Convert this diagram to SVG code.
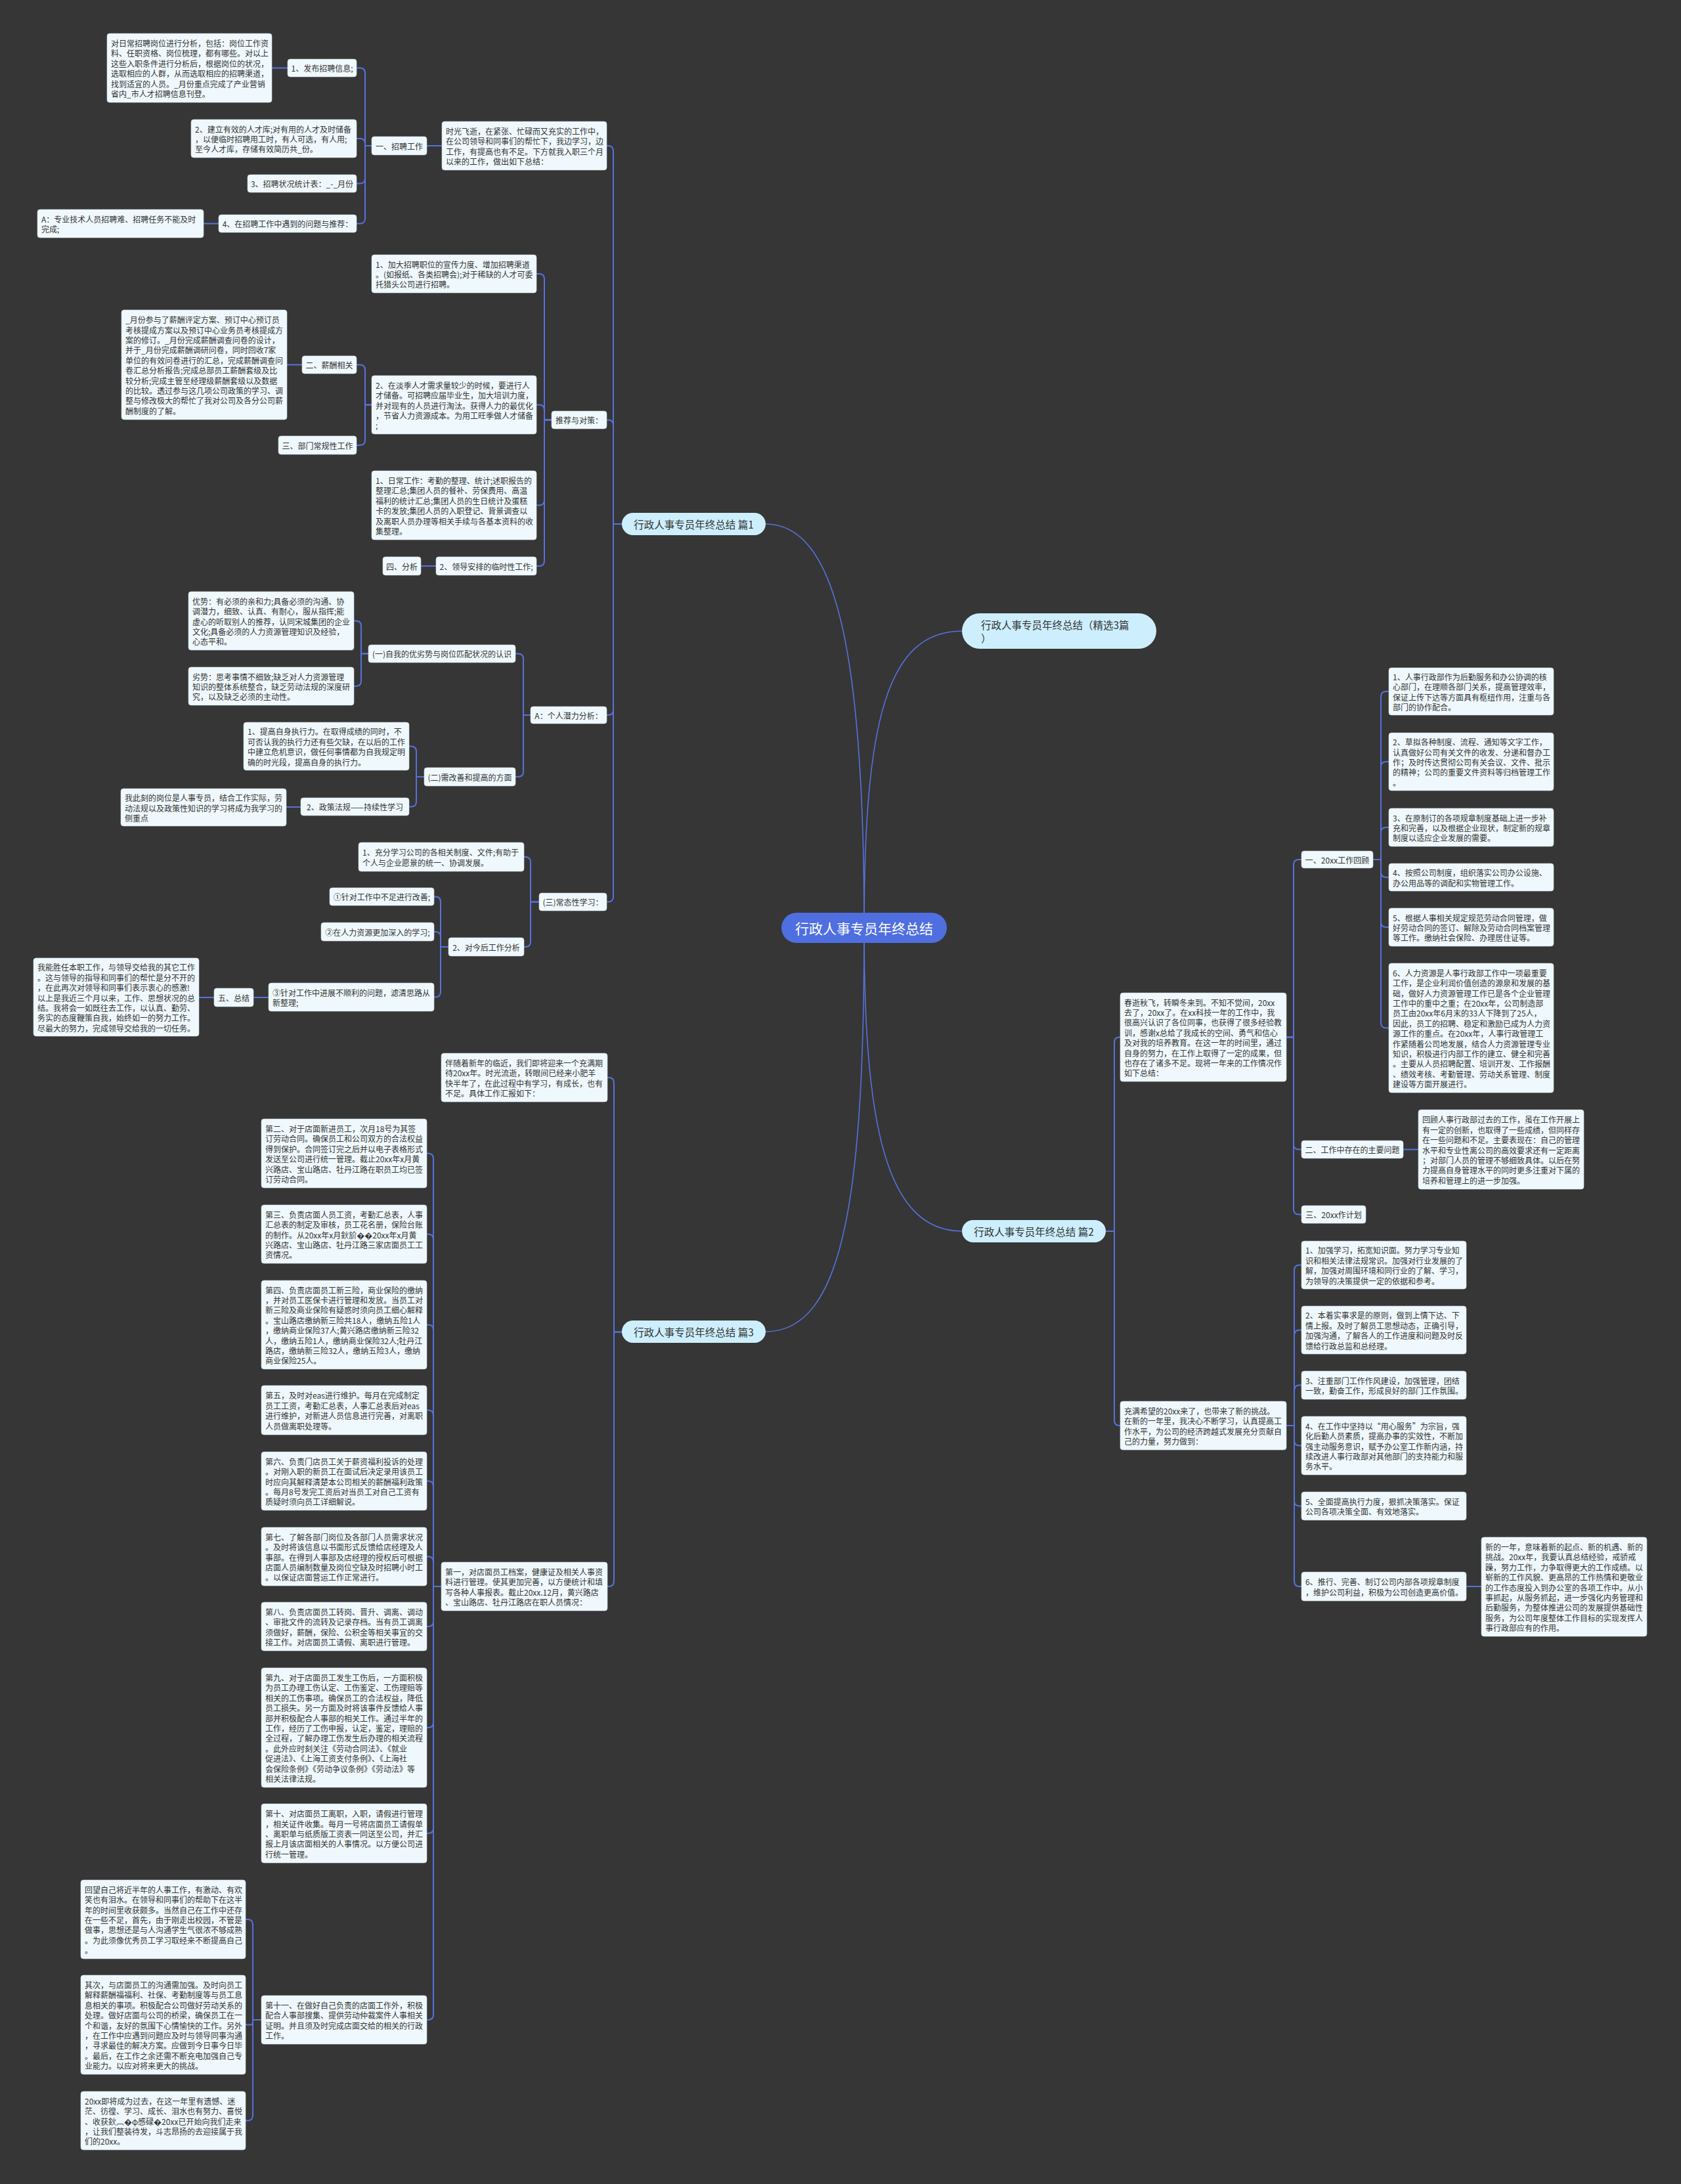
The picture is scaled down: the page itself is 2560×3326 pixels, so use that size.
<svg xmlns="http://www.w3.org/2000/svg" width="2560" height="3326" viewBox="0 0 2560 3326">
<style>
.c{fill:none;stroke:#5672DB;stroke-width:2}
.cm{fill:none;stroke:#5672DB;stroke-width:1.6}
.b{fill:#EFF9FD;stroke:#C9D6DE;stroke-width:0.6}
.t{font-family:"Noto Sans CJK SC","Noto Sans",sans-serif;font-size:12px;fill:#333;dominant-baseline:central}
.m{text-anchor:middle}
.l1{fill:#CDEFFD}
.l1t{font-family:"Noto Sans CJK SC","Noto Sans",sans-serif;font-size:15.5px;fill:#333;dominant-baseline:central}
.mt{font-family:"Noto Sans CJK SC","Noto Sans",sans-serif;font-size:21px;fill:#fff;dominant-baseline:central;text-anchor:middle}
</style>
<rect width="2560" height="3326" fill="#363636"/>
<g id="connectors">
<path class="cm" d="M1166 798 C1270 798 1316 980 1316 1413"/>
<path class="cm" d="M1465 961 C1350 961 1316 1100 1316 1413"/>
<path class="cm" d="M1465 1875 C1345 1875 1316 1700 1316 1413"/>
<path class="cm" d="M1166 2028 C1285 2028 1316 1820 1316 1413"/>
<path class="c" d="M947 798 H934 V230 Q934 222 926 222 H924"/>
<path class="c" d="M947 798 H934 V647.5 Q934 639.5 926 639.5 H924"/>
<path class="c" d="M947 798 H934 V1081 Q934 1089 926 1089 H924"/>
<path class="c" d="M947 798 H934 V1365.5 Q934 1373.5 926 1373.5 H924"/>
<path class="c" d="M673 222 H650"/>
<path class="c" d="M566 222 H556 V111.5 Q556 103.5 548 103.5 H543"/>
<path class="c" d="M566 222 H556 V219 Q556 211 548 211 H543"/>
<path class="c" d="M566 222 H556 V271.5 Q556 279.5 548 279.5 H543"/>
<path class="c" d="M566 222 H556 V332.5 Q556 340.5 548 340.5 H543"/>
<path class="c" d="M438 103.5 H414"/>
<path class="c" d="M333 340.5 H310"/>
<path class="c" d="M840 639.5 H829 V425 Q829 417 821 417 H817"/>
<path class="c" d="M840 639.5 H829 V624.5 Q829 616.5 821 616.5 H817"/>
<path class="c" d="M840 639.5 H829 V761.5 Q829 769.5 821 769.5 H817"/>
<path class="c" d="M840 639.5 H829 V854 Q829 862 821 862 H817"/>
<path class="c" d="M566 616.5 H556 V563.5 Q556 555.5 548 555.5 H543"/>
<path class="c" d="M566 616.5 H556 V670 Q556 678 548 678 H543"/>
<path class="c" d="M460 555.5 H437"/>
<path class="c" d="M664 862 H641"/>
<path class="c" d="M808 1089 H797 V1003.5 Q797 995.5 789 995.5 H785"/>
<path class="c" d="M808 1089 H797 V1175 Q797 1183 789 1183 H785"/>
<path class="c" d="M561 995.5 H550 V953.5 Q550 945.5 542 945.5 H539"/>
<path class="c" d="M561 995.5 H550 V1037 Q550 1045 542 1045 H539"/>
<path class="c" d="M646 1183 H634 V1144.5 Q634 1136.5 626 1136.5 H623"/>
<path class="c" d="M646 1183 H634 V1220.5 Q634 1228.5 626 1228.5 H623"/>
<path class="c" d="M458 1229 H436"/>
<path class="c" d="M821 1373.5 H808 V1313 Q808 1305 800 1305 H798"/>
<path class="c" d="M821 1373.5 H808 V1434 Q808 1442 800 1442 H798"/>
<path class="c" d="M683 1442 H671 V1373.5 Q671 1365.5 663 1365.5 H661"/>
<path class="c" d="M683 1442 H671 V1427 Q671 1419 663 1419 H661"/>
<path class="c" d="M683 1442 H671 V1510.5 Q671 1518.5 663 1518.5 H661"/>
<path class="c" d="M409 1519 H386"/>
<path class="c" d="M326 1519 H303"/>
<path class="c" d="M947 2028.5 H935 V1649 Q935 1641 927 1641 H925"/>
<path class="c" d="M947 2028.5 H935 V2408 Q935 2416 927 2416 H925"/>
<path class="c" d="M672 2416 H660 V1764.5 Q660 1756.5 652 1756.5 H650"/>
<path class="c" d="M672 2416 H660 V1887.5 Q660 1879.5 652 1879.5 H650"/>
<path class="c" d="M672 2416 H660 V2025.5 Q660 2017.5 652 2017.5 H650"/>
<path class="c" d="M672 2416 H660 V2155.5 Q660 2147.5 652 2147.5 H650"/>
<path class="c" d="M672 2416 H660 V2263.5 Q660 2255.5 652 2255.5 H650"/>
<path class="c" d="M672 2416 H660 V2378.5 Q660 2370.5 652 2370.5 H650"/>
<path class="c" d="M672 2416 H660 V2469 Q660 2477 652 2477 H650"/>
<path class="c" d="M672 2416 H660 V2623 Q660 2631 652 2631 H650"/>
<path class="c" d="M672 2416 H660 V2784 Q660 2792 652 2792 H650"/>
<path class="c" d="M672 2416 H660 V3068 Q660 3076 652 3076 H650"/>
<path class="c" d="M398 3076 H385 V2931 Q385 2923 377 2923 H374"/>
<path class="c" d="M398 3076 H385 V3079.5 Q385 3083.5 381 3083.5 H374"/>
<path class="c" d="M398 3076 H385 V3221.5 Q385 3229.5 377 3229.5 H374"/>
<path class="c" d="M1684 1875 H1697 V1587.5 Q1697 1579.5 1705 1579.5 H1706"/>
<path class="c" d="M1684 1875 H1697 V2163 Q1697 2171 1705 2171 H1706"/>
<path class="c" d="M1959 1579.5 H1970 V1317 Q1970 1309 1978 1309 H1982"/>
<path class="c" d="M1959 1579.5 H1970 V1742.5 Q1970 1750.5 1978 1750.5 H1982"/>
<path class="c" d="M1959 1579.5 H1970 V1841.5 Q1970 1849.5 1978 1849.5 H1982"/>
<path class="c" d="M2091 1309 H2103 V1061 Q2103 1053 2111 1053 H2115"/>
<path class="c" d="M2091 1309 H2103 V1168 Q2103 1160 2111 1160 H2115"/>
<path class="c" d="M2091 1309 H2103 V1268 Q2103 1260 2111 1260 H2115"/>
<path class="c" d="M2091 1309 H2103 V1328 Q2103 1336 2111 1336 H2115"/>
<path class="c" d="M2091 1309 H2103 V1404 Q2103 1412 2111 1412 H2115"/>
<path class="c" d="M2091 1309 H2103 V1557.5 Q2103 1565.5 2111 1565.5 H2115"/>
<path class="c" d="M2137 1750.5 H2160"/>
<path class="c" d="M1959 2171 H1971 V1934.5 Q1971 1926.5 1979 1926.5 H1982"/>
<path class="c" d="M1959 2171 H1971 V2033.5 Q1971 2025.5 1979 2025.5 H1982"/>
<path class="c" d="M1959 2171 H1971 V2117.5 Q1971 2109.5 1979 2109.5 H1982"/>
<path class="c" d="M1959 2171 H1971 V2193.5 Q1971 2201.5 1979 2201.5 H1982"/>
<path class="c" d="M1959 2171 H1971 V2285.5 Q1971 2293.5 1979 2293.5 H1982"/>
<path class="c" d="M1959 2171 H1971 V2408 Q1971 2416 1979 2416 H1982"/>
<path class="c" d="M2233 2416 H2256"/>
</g>
<g id="main"><rect x="1190" y="1390" width="252" height="46" rx="23" fill="#4F6FE0"/><text class="mt" x="1316" y="1413">行政人事专员年终总结</text></g>
<g id="p1"><rect class="l1" x="947" y="781" width="219" height="34" rx="17"/><text class="l1t m" x="1056.5" y="798">行政人事专员年终总结 篇1</text></g>
<g id="jx"><rect class="l1" x="1465" y="934" width="296" height="54" rx="27"/><text class="l1t"><tspan x="1494" y="951">行政人事专员年终总结（精选3篇</tspan><tspan x="1494" y="971">）</tspan></text></g>
<g id="p2"><rect class="l1" x="1465" y="1858" width="219" height="34" rx="17"/><text class="l1t m" x="1574.5" y="1875">行政人事专员年终总结 篇2</text></g>
<g id="p3"><rect class="l1" x="947" y="2011" width="219" height="34" rx="17"/><text class="l1t m" x="1056.5" y="2028">行政人事专员年终总结 篇3</text></g>

<g id="n1-intro"><rect class="b" x="673" y="185" width="251" height="74" rx="4"/><text class="t"><tspan x="679" y="198.9">时光飞逝，在紧张、忙碌而又充实的工作中，</tspan><tspan x="679" y="214.3">在公司领导和同事们的帮忙下，我边学习，边</tspan><tspan x="679" y="229.7">工作，有提高也有不足。下方就我入职三个月</tspan><tspan x="679" y="245.1">以来的工作，做出如下总结：</tspan></text></g>
<g id="n1-recruit"><rect class="b" x="566" y="208" width="84" height="28" rx="4"/><text class="t m" x="608" y="222">一、招聘工作</text></g>
<g id="n1-r1"><rect class="b" x="438" y="90" width="105" height="27" rx="4"/><text class="t m" x="490.5" y="103.5">1、发布招聘信息;</text></g>
<g id="n1-r1a"><rect class="b" x="163" y="51" width="251" height="105" rx="4"/><text class="t"><tspan x="169" y="65">对日常招聘岗位进行分析，包括：岗位工作资</tspan><tspan x="169" y="80.4">料、任职资格、岗位梳理，都有哪些。对以上</tspan><tspan x="169" y="95.8">这些入职条件进行分析后，根据岗位的状况，</tspan><tspan x="169" y="111.2">选取相应的人群，从而选取相应的招聘渠道，</tspan><tspan x="169" y="126.6">找到适宜的人员。_月份重点完成了产业营销</tspan><tspan x="169" y="142">省内_市人才招聘信息刊登。</tspan></text></g>
<g id="n1-r2"><rect class="b" x="291" y="182" width="252" height="58" rx="4"/><text class="t"><tspan x="297" y="195.6">2、建立有效的人才库;对有用的人才及时储备</tspan><tspan x="297" y="211">，以便临时招聘用工时，有人可选，有人用;</tspan><tspan x="297" y="226.4">至今人才库，存储有效简历共_份。</tspan></text></g>
<g id="n1-r3"><rect class="b" x="377" y="266" width="166" height="27" rx="4"/><text class="t m" x="460" y="279.5">3、招聘状况统计表：_-_月份</text></g>
<g id="n1-r4"><rect class="b" x="333" y="327" width="210" height="27" rx="4"/><text class="t m" x="438" y="340.5">4、在招聘工作中遇到的问题与推荐：</text></g>
<g id="n1-r4a"><rect class="b" x="57" y="319" width="253" height="43" rx="4"/><text class="t"><tspan x="63" y="332.8">A：专业技术人员招聘难、招聘任务不能及时</tspan><tspan x="63" y="348.2">完成;</tspan></text></g>

<g id="n1-adv"><rect class="b" x="840" y="626" width="84" height="27" rx="4"/><text class="t m" x="882" y="639.5">推荐与对策：</text></g>
<g id="n1-a1"><rect class="b" x="566" y="388" width="251" height="58" rx="4"/><text class="t"><tspan x="572" y="401.6">1、加大招聘职位的宣传力度、增加招聘渠道</tspan><tspan x="572" y="417">。(如报纸、各类招聘会);对于稀缺的人才可委</tspan><tspan x="572" y="432.4">托猎头公司进行招聘。</tspan></text></g>
<g id="n1-a2"><rect class="b" x="566" y="572" width="251" height="89" rx="4"/><text class="t"><tspan x="572" y="585.7">2、在淡季人才需求量较少的时候，要进行人</tspan><tspan x="572" y="601.1">才储备。可招聘应届毕业生，加大培训力度，</tspan><tspan x="572" y="616.5">并对现有的人员进行淘汰。获得人力的最优化</tspan><tspan x="572" y="631.9">，节省人力资源成本。为用工旺季做人才储备</tspan><tspan x="572" y="647.3">;</tspan></text></g>
<g id="n1-sal"><rect class="b" x="460" y="542" width="83" height="27" rx="4"/><text class="t m" x="501.5" y="555.5">二、薪酬相关</text></g>
<g id="n1-sala"><rect class="b" x="185" y="472" width="252" height="167" rx="4"/><text class="t"><tspan x="191" y="486.2">_月份参与了薪酬评定方案、预订中心预订员</tspan><tspan x="191" y="501.6">考核提成方案以及预订中心业务员考核提成方</tspan><tspan x="191" y="517">案的修订。_月份完成薪酬调查问卷的设计，</tspan><tspan x="191" y="532.4">并于_月份完成薪酬调研问卷，同时回收7家</tspan><tspan x="191" y="547.8">单位的有效问卷进行的汇总，完成薪酬调查问</tspan><tspan x="191" y="563.2">卷汇总分析报告;完成总部员工薪酬套级及比</tspan><tspan x="191" y="578.6">较分析;完成主管至经理级薪酬套级以及数据</tspan><tspan x="191" y="594">的比较。透过参与这几项公司政策的学习、调</tspan><tspan x="191" y="609.4">整与修改极大的帮忙了我对公司及各分公司薪</tspan><tspan x="191" y="624.8">酬制度的了解。</tspan></text></g>
<g id="n1-dept"><rect class="b" x="424" y="664" width="119" height="28" rx="4"/><text class="t m" x="483.5" y="678">三、部门常规性工作</text></g>
<g id="n1-a3"><rect class="b" x="566" y="717" width="251" height="105" rx="4"/><text class="t"><tspan x="572" y="731">1、日常工作：考勤的整理、统计;述职报告的</tspan><tspan x="572" y="746.4">整理汇总;集团人员的餐补、劳保费用、高温</tspan><tspan x="572" y="761.8">福利的统计汇总;集团人员的生日统计及蛋糕</tspan><tspan x="572" y="777.2">卡的发放;集团人员的入职登记、背景调查以</tspan><tspan x="572" y="792.6">及离职人员办理等相关手续与各基本资料的收</tspan><tspan x="572" y="808">集整理。</tspan></text></g>
<g id="n1-a4"><rect class="b" x="664" y="848" width="153" height="28" rx="4"/><text class="t m" x="740.5" y="862">2、领导安排的临时性工作;</text></g>
<g id="n1-ana"><rect class="b" x="583" y="848" width="58" height="28" rx="4"/><text class="t m" x="612" y="862">四、分析</text></g>

<g id="n1-pot"><rect class="b" x="808" y="1076" width="116" height="26" rx="4"/><text class="t m" x="866" y="1089">A：个人潜力分析：</text></g>
<g id="n1-self"><rect class="b" x="561" y="982" width="224" height="27" rx="4"/><text class="t m" x="673" y="995.5">(一)自我的优劣势与岗位匹配状况的认识</text></g>
<g id="n1-good"><rect class="b" x="287" y="901" width="252" height="89" rx="4"/><text class="t"><tspan x="293" y="914.7">优势：有必须的亲和力;具备必须的沟通、协</tspan><tspan x="293" y="930.1">调潜力，细致、认真、有耐心，服从指挥;能</tspan><tspan x="293" y="945.5">虚心的听取别人的推荐，认同宋城集团的企业</tspan><tspan x="293" y="960.9">文化;具备必须的人力资源管理知识及经验，</tspan><tspan x="293" y="976.3">心态平和。</tspan></text></g>
<g id="n1-bad"><rect class="b" x="287" y="1016" width="252" height="58" rx="4"/><text class="t"><tspan x="293" y="1029.6">劣势：思考事情不细致;缺乏对人力资源管理</tspan><tspan x="293" y="1045">知识的整体系统整合，缺乏劳动法规的深度研</tspan><tspan x="293" y="1060.4">究，以及缺乏必须的主动性。</tspan></text></g>
<g id="n1-imp"><rect class="b" x="646" y="1169" width="139" height="28" rx="4"/><text class="t m" x="715.5" y="1183">(二)需改善和提高的方面</text></g>
<g id="n1-imp1"><rect class="b" x="371" y="1100" width="252" height="73" rx="4"/><text class="t"><tspan x="377" y="1113.4">1、提高自身执行力。在取得成绩的同时，不</tspan><tspan x="377" y="1128.8">可否认我的执行力还有些欠缺，在以后的工作</tspan><tspan x="377" y="1144.2">中建立危机意识，做任何事情都为自我规定明</tspan><tspan x="377" y="1159.6">确的时光段，提高自身的执行力。</tspan></text></g>
<g id="n1-imp2"><rect class="b" x="458" y="1215" width="165" height="27" rx="4"/><text class="t m" x="540.5" y="1228.5">2、政策法规——持续性学习</text></g>
<g id="n1-imp2a"><rect class="b" x="184" y="1201" width="252" height="57" rx="4"/><text class="t"><tspan x="190" y="1214.1">我此刻的岗位是人事专员，结合工作实际，劳</tspan><tspan x="190" y="1229.5">动法规以及政策性知识的学习将成为我学习的</tspan><tspan x="190" y="1244.9">侧重点</tspan></text></g>

<g id="n1-learn"><rect class="b" x="821" y="1360" width="103" height="27" rx="4"/><text class="t m" x="872.5" y="1373.5">(三)常态性学习：</text></g>
<g id="n1-l1"><rect class="b" x="546" y="1283" width="252" height="44" rx="4"/><text class="t"><tspan x="552" y="1297.3">1、充分学习公司的各相关制度、文件;有助于</tspan><tspan x="552" y="1312.7">个人与企业愿景的统一、协调发展。</tspan></text></g>
<g id="n1-l2"><rect class="b" x="683" y="1428" width="115" height="28" rx="4"/><text class="t m" x="740.5" y="1442">2、对今后工作分析</text></g>
<g id="n1-l2a"><rect class="b" x="502" y="1352" width="159" height="27" rx="4"/><text class="t m" x="581.5" y="1365.5">①针对工作中不足进行改善;</text></g>
<g id="n1-l2b"><rect class="b" x="489" y="1405" width="172" height="28" rx="4"/><text class="t m" x="575" y="1419">②在人力资源更加深入的学习;</text></g>
<g id="n1-l2c"><rect class="b" x="409" y="1497" width="252" height="43" rx="4"/><text class="t"><tspan x="415" y="1510.8">③针对工作中进展不顺利的问题，滤清思路从</tspan><tspan x="415" y="1526.2">新整理;</tspan></text></g>
<g id="n1-sum"><rect class="b" x="326" y="1505" width="60" height="28" rx="4"/><text class="t m" x="356" y="1519">五、总结</text></g>
<g id="n1-suma"><rect class="b" x="51" y="1459" width="252" height="119" rx="4"/><text class="t"><tspan x="57" y="1472.3">我能胜任本职工作，与领导交给我的其它工作</tspan><tspan x="57" y="1487.7">。这与领导的指导和同事们的帮忙是分不开的</tspan><tspan x="57" y="1503.1">，在此再次对领导和同事们表示衷心的感激!</tspan><tspan x="57" y="1518.5">以上是我近三个月以来，工作、思想状况的总</tspan><tspan x="57" y="1533.9">结。我将会一如既往去工作，以认真、勤劳、</tspan><tspan x="57" y="1549.3">务实的态度鞭策自我，始终如一的努力工作。</tspan><tspan x="57" y="1564.7">尽最大的努力，完成领导交给我的一切任务。</tspan></text></g>

<g id="n3-intro"><rect class="b" x="672" y="1604" width="253" height="74" rx="4"/><text class="t"><tspan x="678" y="1617.9">伴随着新年的临近，我们即将迎来一个充满期</tspan><tspan x="678" y="1633.3">待20xx年。时光流逝，转眼间已经来小肥羊</tspan><tspan x="678" y="1648.7">快半年了，在此过程中有学习，有成长，也有</tspan><tspan x="678" y="1664.1">不足。具体工作汇报如下：</tspan></text></g>
<g id="n3-first"><rect class="b" x="672" y="2379" width="253" height="74" rx="4"/><text class="t"><tspan x="678" y="2392.9">第一，对店面员工档案，健康证及相关人事资</tspan><tspan x="678" y="2408.3">料进行管理。使其更加完善，以方便统计和填</tspan><tspan x="678" y="2423.7">写各种人事报表。截止20xx.12月，黄兴路店</tspan><tspan x="678" y="2439.1">、宝山路店、牡丹江路店在职人员情况：</tspan></text></g>
<g id="n3-2"><rect class="b" x="398" y="1704" width="252" height="105" rx="4"/><text class="t"><tspan x="404" y="1718">第二、对于店面新进员工，次月18号为其签</tspan><tspan x="404" y="1733.4">订劳动合同。确保员工和公司双方的合法权益</tspan><tspan x="404" y="1748.8">得到保护。合同签订完之后并以电子表格形式</tspan><tspan x="404" y="1764.2">发送至公司进行统一管理。截止20xx年x月黄</tspan><tspan x="404" y="1779.6">兴路店、宝山路店、牡丹江路在职员工均已签</tspan><tspan x="404" y="1795">订劳动合同。</tspan></text></g>
<g id="n3-3"><rect class="b" x="398" y="1835" width="252" height="89" rx="4"/><text class="t"><tspan x="404" y="1848.7">第三、负责店面人员工资，考勤汇总表，人事</tspan><tspan x="404" y="1864.1">汇总表的制定及审核，员工花名册，保险台账</tspan><tspan x="404" y="1879.5">的制作。从20xx年x月鈥斺��20xx年x月黄</tspan><tspan x="404" y="1894.9">兴路店、宝山路店、牡丹江路三家店面员工工</tspan><tspan x="404" y="1910.3">资情况。</tspan></text></g>
<g id="n3-4"><rect class="b" x="398" y="1950" width="252" height="135" rx="4"/><text class="t"><tspan x="404" y="1963.6">第四、负责店面员工新三险，商业保险的缴纳</tspan><tspan x="404" y="1979">，并对员工医保卡进行管理和发放。当员工对</tspan><tspan x="404" y="1994.4">新三险及商业保险有疑惑时须向员工细心解释</tspan><tspan x="404" y="2009.8">。宝山路店缴纳新三险共18人，缴纳五险1人</tspan><tspan x="404" y="2025.2">，缴纳商业保险37人;黄兴路店缴纳新三险32</tspan><tspan x="404" y="2040.6">人，缴纳五险1人，缴纳商业保险32人;牡丹江</tspan><tspan x="404" y="2056">路店，缴纳新三险32人，缴纳五险3人，缴纳</tspan><tspan x="404" y="2071.4">商业保险25人。</tspan></text></g>
<g id="n3-5"><rect class="b" x="398" y="2110" width="252" height="75" rx="4"/><text class="t"><tspan x="404" y="2124.4">第五，及时对eas进行维护。每月在完成制定</tspan><tspan x="404" y="2139.8">员工工资，考勤汇总表，人事汇总表后对eas</tspan><tspan x="404" y="2155.2">进行维护，对新进人员信息进行完善，对离职</tspan><tspan x="404" y="2170.6">人员做离职处理等。</tspan></text></g>
<g id="n3-6"><rect class="b" x="398" y="2211" width="252" height="89" rx="4"/><text class="t"><tspan x="404" y="2224.7">第六、负责门店员工关于薪资福利投诉的处理</tspan><tspan x="404" y="2240.1">。对刚入职的新员工在面试后决定录用该员工</tspan><tspan x="404" y="2255.5">时应向其解释清楚本公司相关的薪酬福利政策</tspan><tspan x="404" y="2270.9">。每月8号发完工资后对当员工对自己工资有</tspan><tspan x="404" y="2286.3">质疑时须向员工详细解说。</tspan></text></g>
<g id="n3-7"><rect class="b" x="398" y="2326" width="252" height="89" rx="4"/><text class="t"><tspan x="404" y="2339.7">第七、了解各部门岗位及各部门人员需求状况</tspan><tspan x="404" y="2355.1">。及时将该信息以书面形式反馈给店经理及人</tspan><tspan x="404" y="2370.5">事部。在得到人事部及店经理的授权后可根据</tspan><tspan x="404" y="2385.9">店面人员编制数量及岗位空缺及时招聘小时工</tspan><tspan x="404" y="2401.3">。以保证店面营运工作正常进行。</tspan></text></g>
<g id="n3-8"><rect class="b" x="398" y="2440" width="252" height="74" rx="4"/><text class="t"><tspan x="404" y="2453.9">第八、负责店面员工转岗、晋升、调离、调动</tspan><tspan x="404" y="2469.3">、审批文件的流转及记录存档。当有员工调离</tspan><tspan x="404" y="2484.7">须做好，薪酬，保险、公积金等相关事宜的交</tspan><tspan x="404" y="2500.1">接工作。对店面员工请假、离职进行管理。</tspan></text></g>
<g id="n3-9"><rect class="b" x="398" y="2540" width="252" height="182" rx="4"/><text class="t"><tspan x="404" y="2554">第九、对于店面员工发生工伤后，一方面积极</tspan><tspan x="404" y="2569.4">为员工办理工伤认定、工伤鉴定、工伤理赔等</tspan><tspan x="404" y="2584.8">相关的工伤事项。确保员工的合法权益，降低</tspan><tspan x="404" y="2600.2">员工损失。另一方面及时将该事件反馈给人事</tspan><tspan x="404" y="2615.6">部并积极配合人事部的相关工作。通过半年的</tspan><tspan x="404" y="2631">工作，经历了工伤申报，认定，鉴定，理赔的</tspan><tspan x="404" y="2646.4">全过程，了解办理工伤发生后办理的相关流程</tspan><tspan x="404" y="2661.8">。此外应时刻关注《劳动合同法》、《就业</tspan><tspan x="404" y="2677.2">促进法》、《上海工资支付条例》、《上海社</tspan><tspan x="404" y="2692.6">会保险条例》《劳动争议条例》《劳动法》等</tspan><tspan x="404" y="2708">相关法律法规。</tspan></text></g>
<g id="n3-10"><rect class="b" x="398" y="2747" width="252" height="90" rx="4"/><text class="t"><tspan x="404" y="2761.2">第十、对店面员工离职，入职，请假进行管理</tspan><tspan x="404" y="2776.6">，相关证件收集。每月一号将店面员工请假单</tspan><tspan x="404" y="2792">、离职单与纸质版工资表一同送至公司，并汇</tspan><tspan x="404" y="2807.4">报上月该店面相关的人事情况。以方便公司进</tspan><tspan x="404" y="2822.8">行统一管理。</tspan></text></g>
<g id="n3-11"><rect class="b" x="398" y="3039" width="252" height="74" rx="4"/><text class="t"><tspan x="404" y="3052.9">第十一、在做好自己负责的店面工作外，积极</tspan><tspan x="404" y="3068.3">配合人事部搜集、提供劳动仲裁案件人事相关</tspan><tspan x="404" y="3083.7">证明。并且须及时完成店面交给的相关的行政</tspan><tspan x="404" y="3099.1">工作。</tspan></text></g>
<g id="n3-11a"><rect class="b" x="123" y="2863" width="251" height="120" rx="4"/><text class="t"><tspan x="129" y="2876.8">回望自己将近半年的人事工作，有激动、有欢</tspan><tspan x="129" y="2892.2">笑也有泪水。在领导和同事们的帮助下在这半</tspan><tspan x="129" y="2907.6">年的时间里收获颇多。当然自己在工作中还存</tspan><tspan x="129" y="2923">在一些不足，首先，由于刚走出校园，不管是</tspan><tspan x="129" y="2938.4">做事，思想还是与人沟通学生气很浓不够成熟</tspan><tspan x="129" y="2953.8">。为此须像优秀员工学习取经来不断提高自己</tspan><tspan x="129" y="2969.2">。</tspan></text></g>
<g id="n3-11b"><rect class="b" x="123" y="3008" width="251" height="151" rx="4"/><text class="t"><tspan x="129" y="3021.9">其次，与店面员工的沟通需加强。及时向员工</tspan><tspan x="129" y="3037.3">解释薪酬福福利、社保、考勤制度等与员工息</tspan><tspan x="129" y="3052.7">息相关的事项。积极配合公司做好劳动关系的</tspan><tspan x="129" y="3068.1">处理。做好店面与公司的桥梁，确保员工在一</tspan><tspan x="129" y="3083.5">个和谐，友好的氛围下心情愉快的工作。另外</tspan><tspan x="129" y="3098.9">，在工作中应遇到问题应及时与领导同事沟通</tspan><tspan x="129" y="3114.3">，寻求最佳的解决方案。应做到今日事今日毕</tspan><tspan x="129" y="3129.7">。最后，在工作之余还需不断充电加强自己专</tspan><tspan x="129" y="3145.1">业能力。以应对将来更大的挑战。</tspan></text></g>
<g id="n3-11c"><rect class="b" x="123" y="3185" width="251" height="89" rx="4"/><text class="t"><tspan x="129" y="3198.7">20xx即将成为过去，在这一年里有遗憾、迷</tspan><tspan x="129" y="3214.1">茫、彷徨、学习、成长、泪水也有努力、喜悦</tspan><tspan x="129" y="3229.5">、收获鈥︹�φ感碌�20xx已开始向我们走来</tspan><tspan x="129" y="3244.9">，让我们整装待发，斗志昂扬的去迎接属于我</tspan><tspan x="129" y="3260.3">们的20xx。</tspan></text></g>

<g id="n2-intro"><rect class="b" x="1706" y="1512" width="253" height="135" rx="4"/><text class="t"><tspan x="1712" y="1525.6">春逝秋飞，转瞬冬来到。不知不觉间，20xx</tspan><tspan x="1712" y="1541">去了，20xx了。在xx科技一年的工作中，我</tspan><tspan x="1712" y="1556.4">很高兴认识了各位同事，也获得了很多经验教</tspan><tspan x="1712" y="1571.8">训，感谢x总给了我成长的空间、勇气和信心</tspan><tspan x="1712" y="1587.2">及对我的培养教育。在这一年的时间里，通过</tspan><tspan x="1712" y="1602.6">自身的努力，在工作上取得了一定的成果，但</tspan><tspan x="1712" y="1618">也存在了诸多不足。现将一年来的工作情况作</tspan><tspan x="1712" y="1633.4">如下总结：</tspan></text></g>
<g id="n2-rev"><rect class="b" x="1982" y="1296" width="109" height="26" rx="4"/><text class="t m" x="2036.5" y="1309">一、20xx工作回顾</text></g>
<g id="n2-r1"><rect class="b" x="2115" y="1017" width="251" height="72" rx="4"/><text class="t"><tspan x="2121" y="1029.9">1、人事行政部作为后勤服务和办公协调的核</tspan><tspan x="2121" y="1045.3">心部门，在理顺各部门关系，提高管理效率，</tspan><tspan x="2121" y="1060.7">保证上传下达等方面具有枢纽作用，注重与各</tspan><tspan x="2121" y="1076.1">部门的协作配合。</tspan></text></g>
<g id="n2-r2"><rect class="b" x="2115" y="1116" width="251" height="88" rx="4"/><text class="t"><tspan x="2121" y="1129.2">2、草拟各种制度、流程、通知等文字工作，</tspan><tspan x="2121" y="1144.6">认真做好公司有关文件的收发、分递和督办工</tspan><tspan x="2121" y="1160">作；及时传达贯彻公司有关会议、文件、批示</tspan><tspan x="2121" y="1175.4">的精神；公司的重要文件资料等归档管理工作</tspan><tspan x="2121" y="1190.8">。</tspan></text></g>
<g id="n2-r3"><rect class="b" x="2115" y="1231" width="251" height="58" rx="4"/><text class="t"><tspan x="2121" y="1244.6">3、在原制订的各项规章制度基础上进一步补</tspan><tspan x="2121" y="1260">充和完善，以及根据企业现状，制定新的规章</tspan><tspan x="2121" y="1275.4">制度以适应企业发展的需要。</tspan></text></g>
<g id="n2-r4"><rect class="b" x="2115" y="1315" width="251" height="42" rx="4"/><text class="t"><tspan x="2121" y="1328.3">4、按照公司制度，组织落实公司办公设施、</tspan><tspan x="2121" y="1343.7">办公用品等的调配和实物管理工作。</tspan></text></g>
<g id="n2-r5"><rect class="b" x="2115" y="1383" width="251" height="58" rx="4"/><text class="t"><tspan x="2121" y="1396.6">5、根据人事相关规定规范劳动合同管理，做</tspan><tspan x="2121" y="1412">好劳动合同的签订、解除及劳动合同档案管理</tspan><tspan x="2121" y="1427.4">等工作。缴纳社会保险、办理居住证等。</tspan></text></g>
<g id="n2-r6"><rect class="b" x="2115" y="1467" width="251" height="197" rx="4"/><text class="t"><tspan x="2121" y="1480.8">6、人力资源是人事行政部工作中一项最重要</tspan><tspan x="2121" y="1496.2">工作，是企业利润价值创造的源泉和发展的基</tspan><tspan x="2121" y="1511.6">础，做好人力资源管理工作已是各个企业管理</tspan><tspan x="2121" y="1527">工作中的重中之重；在20xx年，公司制造部</tspan><tspan x="2121" y="1542.4">员工由20xx年6月末的33人下降到了25人，</tspan><tspan x="2121" y="1557.8">因此，员工的招聘、稳定和激励已成为人力资</tspan><tspan x="2121" y="1573.2">源工作的重点。在20xx年，人事行政管理工</tspan><tspan x="2121" y="1588.6">作紧随着公司地发展，结合人力资源管理专业</tspan><tspan x="2121" y="1604">知识，积极进行内部工作的建立、健全和完善</tspan><tspan x="2121" y="1619.4">。主要从人员招聘配置、培训开发、工作报酬</tspan><tspan x="2121" y="1634.8">、绩效考核、考勤管理、劳动关系管理、制度</tspan><tspan x="2121" y="1650.2">建设等方面开展进行。</tspan></text></g>
<g id="n2-prob"><rect class="b" x="1982" y="1737" width="155" height="27" rx="4"/><text class="t m" x="2059.5" y="1750.5">二、工作中存在的主要问题</text></g>
<g id="n2-proba"><rect class="b" x="2160" y="1690" width="252" height="121" rx="4"/><text class="t"><tspan x="2166" y="1704.3">回顾人事行政部过去的工作，虽在工作开展上</tspan><tspan x="2166" y="1719.7">有一定的创新，也取得了一些成绩，但同样存</tspan><tspan x="2166" y="1735.1">在一些问题和不足。主要表现在：自己的管理</tspan><tspan x="2166" y="1750.5">水平和专业性离公司的高效要求还有一定距离</tspan><tspan x="2166" y="1765.9">；对部门人员的管理不够细致具体。以后在努</tspan><tspan x="2166" y="1781.3">力提高自身管理水平的同时更多注重对下属的</tspan><tspan x="2166" y="1796.7">培养和管理上的进一步加强。</tspan></text></g>
<g id="n2-next"><rect class="b" x="1982" y="1836" width="98" height="27" rx="4"/><text class="t m" x="2031" y="1849.5">三、20xx作计划</text></g>
<g id="n2-plan"><rect class="b" x="1706" y="2134" width="253" height="74" rx="4"/><text class="t"><tspan x="1712" y="2147.9">充满希望的20xx来了，也带来了新的挑战。</tspan><tspan x="1712" y="2163.3">在新的一年里，我决心不断学习，认真提高工</tspan><tspan x="1712" y="2178.7">作水平，为公司的经济跨越式发展充分贡献自</tspan><tspan x="1712" y="2194.1">己的力量，努力做到：</tspan></text></g>
<g id="n2-p1"><rect class="b" x="1982" y="1890" width="251" height="73" rx="4"/><text class="t"><tspan x="1988" y="1903.4">1、加强学习，拓宽知识面。努力学习专业知</tspan><tspan x="1988" y="1918.8">识和相关法律法规常识。加强对行业发展的了</tspan><tspan x="1988" y="1934.2">解，加强对周围环境和同行业的了解、学习，</tspan><tspan x="1988" y="1949.6">为领导的决策提供一定的依据和参考。</tspan></text></g>
<g id="n2-p2"><rect class="b" x="1982" y="1989" width="251" height="73" rx="4"/><text class="t"><tspan x="1988" y="2002.4">2、本着实事求是的原则，做到上情下达、下</tspan><tspan x="1988" y="2017.8">情上报。及时了解员工思想动态，正确引导，</tspan><tspan x="1988" y="2033.2">加强沟通，了解各人的工作进度和问题及时反</tspan><tspan x="1988" y="2048.6">馈给行政总监和总经理。</tspan></text></g>
<g id="n2-p3"><rect class="b" x="1982" y="2088" width="251" height="43" rx="4"/><text class="t"><tspan x="1988" y="2101.8">3、注重部门工作作风建设，加强管理，团结</tspan><tspan x="1988" y="2117.2">一致，勤奋工作，形成良好的部门工作氛围。</tspan></text></g>
<g id="n2-p4"><rect class="b" x="1982" y="2157" width="251" height="89" rx="4"/><text class="t"><tspan x="1988" y="2170.7">4、在工作中坚持以“用心服务”为宗旨，强</tspan><tspan x="1988" y="2186.1">化后勤人员素质，提高办事的实效性，不断加</tspan><tspan x="1988" y="2201.5">强主动服务意识，赋予办公室工作新内涵，持</tspan><tspan x="1988" y="2216.9">续改进人事行政部对其他部门的支持能力和服</tspan><tspan x="1988" y="2232.3">务水平。</tspan></text></g>
<g id="n2-p5"><rect class="b" x="1982" y="2272" width="251" height="43" rx="4"/><text class="t"><tspan x="1988" y="2285.8">5、全面提高执行力度，狠抓决策落实。保证</tspan><tspan x="1988" y="2301.2">公司各项决策全面、有效地落实。</tspan></text></g>
<g id="n2-p6"><rect class="b" x="1982" y="2394" width="251" height="44" rx="4"/><text class="t"><tspan x="1988" y="2408.3">6、推行、完善、制订公司内部各项规章制度</tspan><tspan x="1988" y="2423.7">，维护公司利益，积极为公司创造更高价值。</tspan></text></g>
<g id="n2-p6a"><rect class="b" x="2256" y="2341" width="252" height="151" rx="4"/><text class="t"><tspan x="2262" y="2354.9">新的一年，意味着新的起点、新的机遇、新的</tspan><tspan x="2262" y="2370.3">挑战。20xx年，我要认真总结经验，戒骄戒</tspan><tspan x="2262" y="2385.7">躁，努力工作，力争取得更大的工作成绩。以</tspan><tspan x="2262" y="2401.1">崭新的工作风貌、更高昂的工作热情和更敬业</tspan><tspan x="2262" y="2416.5">的工作态度投入到办公室的各项工作中。从小</tspan><tspan x="2262" y="2431.9">事抓起，从服务抓起，进一步强化内务管理和</tspan><tspan x="2262" y="2447.3">后勤服务，为整体推进公司的发展提供基础性</tspan><tspan x="2262" y="2462.7">服务，为公司年度整体工作目标的实现发挥人</tspan><tspan x="2262" y="2478.1">事行政部应有的作用。</tspan></text></g>
</svg>
